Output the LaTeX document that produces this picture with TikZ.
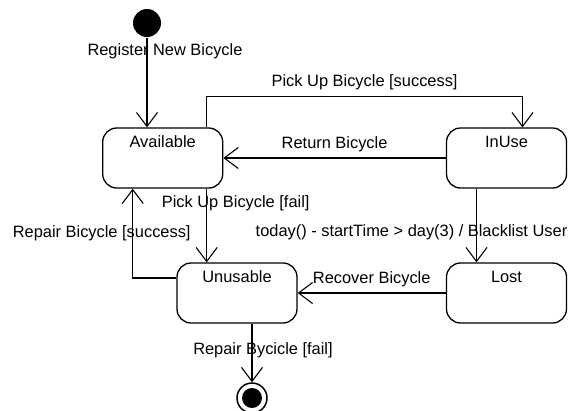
\documentclass[tikz,border=0pt]{standalone}
\usepackage{fontspec}
\setmainfont{Liberation Sans}
\usepackage{tikz}
\usetikzlibrary{arrows.meta,positioning}

\begin{document}
\begin{tikzpicture}[
  x=1pt, y=-1pt,
  state/.style={draw, rounded corners=14pt, line width=1.3pt,
                minimum width=120pt, inner xsep=0pt, inner ysep=7pt,
                text height=12pt, text depth=34pt, anchor=center},
  lab/.style={inner sep=1pt},
  every node/.style={font=\fontsize{16.4}{19}\selectfont},
  >={Straight Barb[length=14pt,width=21pt,line width=1.1pt]},
  line width=1.1pt]
\useasboundingbox (0,0) rectangle (573,410);
% states
\node[circle, fill, minimum size=28pt, inner sep=0pt] (init) at (147,23) {};
\node[state] (avail) at (162.7,158) {Available};
\node[state] (inuse) at (506.5,158) {InUse};
\node[state] (unus) at (237,293) {Unusable};
\node[state] (lost) at (506.5,293) {Lost};
\node[circle, draw, line width=1.5pt, minimum size=30pt, inner sep=0pt] (fin) at (252,398) {};
\node[circle, fill, minimum size=20pt, inner sep=0pt] (finin) at (fin) {};
% transitions
\draw[->] (init) -- node[lab, pos=0.15, xshift=18pt]{Register New Bicycle} (init |- avail.north);
\draw[->] ([xshift=44pt]avail.north) -- ++(0,-31)
  -| node[lab, pos=0.25, above=5pt]{Pick Up Bicycle [success]} ([xshift=16pt]inuse.north);
\draw[->] (inuse.west) -- node[lab, above=5pt]{Return Bicycle} (avail.east);
\draw[->] ([xshift=44pt]avail.south) -- node[lab, pos=0.2, xshift=29pt]{Pick Up Bicycle [fail]}
  ([xshift=44pt]avail.south |- unus.north);
\draw[->] ([yshift=15pt]unus.west) -| node[lab, pos=0.75, xshift=-31pt]{Repair Bicycle [success]}
  ([xshift=-30pt]avail.south);
\draw[->] ([xshift=-30pt]inuse.south) -- node[lab, pos=0.59, xshift=-65pt]{today() - startTime > day(3) / Blacklist User}
  ([xshift=-30pt]lost.north);
\draw[->] (lost.west) -- node[lab, above=5pt]{Recover Bicycle} (unus.east);
\draw[->] ([xshift=15pt]unus.south) -- node[lab, pos=0.45, xshift=11pt]{Repair Bycicle [fail]} (fin);
\end{tikzpicture}
\end{document}
